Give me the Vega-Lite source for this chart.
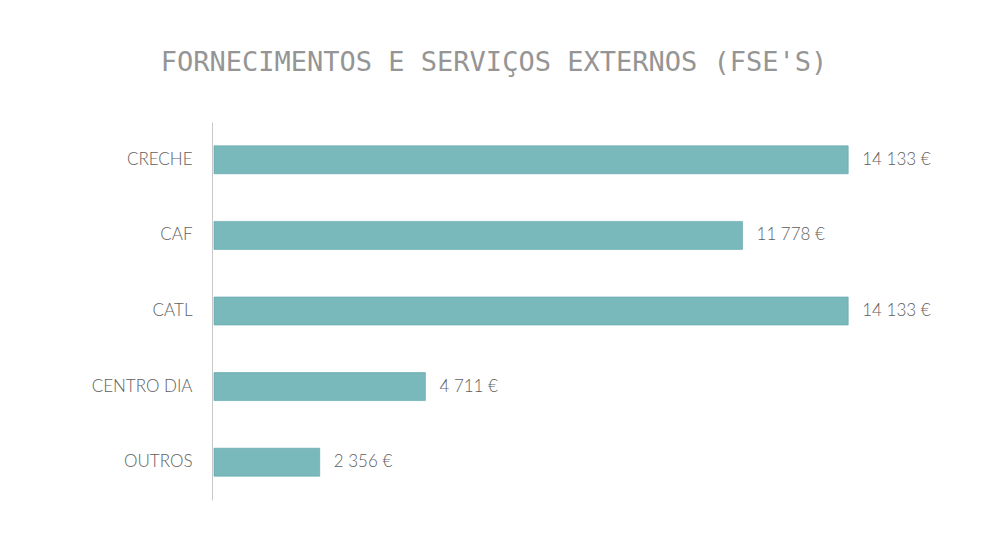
{
  "$schema": "https://vega.github.io/schema/vega-lite/v6.json",
  "autosize": {"type": "none"},
  "padding": {"left": 214, "top": 122, "right": 57, "bottom": 42},
  "width": 718,
  "height": 378,
  "background": "white",
  "title": {
    "text": "FORNECIMENTOS E SERVIÇOS EXTERNOS (FSE'S)",
    "font": "DejaVu Sans Mono",
    "fontSize": 27,
    "fontWeight": "normal",
    "color": "#959595",
    "anchor": "middle",
    "dx": -79,
    "offset": 45
  },
  "data": {
    "values": [
      {"categoria": "CRECHE", "valor": 14133, "rotulo": "14 133 €"},
      {"categoria": "CAF", "valor": 11778, "rotulo": "11 778 €"},
      {"categoria": "CATL", "valor": 14133, "rotulo": "14 133 €"},
      {"categoria": "CENTRO DIA", "valor": 4711, "rotulo": "4 711 €"},
      {"categoria": "OUTROS", "valor": 2356, "rotulo": "2 356 €"}
    ]
  },
  "encoding": {
    "y": {
      "field": "categoria",
      "type": "nominal",
      "sort": null,
      "scale": {"paddingInner": 0.63, "paddingOuter": 0.315},
      "axis": {
        "title": null,
        "ticks": false,
        "domainColor": "#c8c8c8",
        "domainWidth": 1,
        "labelFont": "Lato",
        "labelFontSize": 17,
        "labelFontWeight": 300,
        "labelColor": "#606060",
        "labelPadding": 20,
        "offset": 2
      }
    },
    "x": {
      "field": "valor",
      "type": "quantitative",
      "scale": {"domain": [0, 16000], "nice": false},
      "axis": null
    }
  },
  "layer": [
    {
      "mark": {"type": "bar", "color": "#79b9bb", "stroke": "#5aa3a8", "strokeWidth": 0.6}
    },
    {
      "mark": {"type": "text", "align": "left", "baseline": "middle", "dx": 14, "font": "Lato", "fontSize": 17, "fontWeight": 300, "color": "#606060"},
      "encoding": {"text": {"field": "rotulo"}}
    }
  ],
  "config": {"view": {"stroke": null}}
}
